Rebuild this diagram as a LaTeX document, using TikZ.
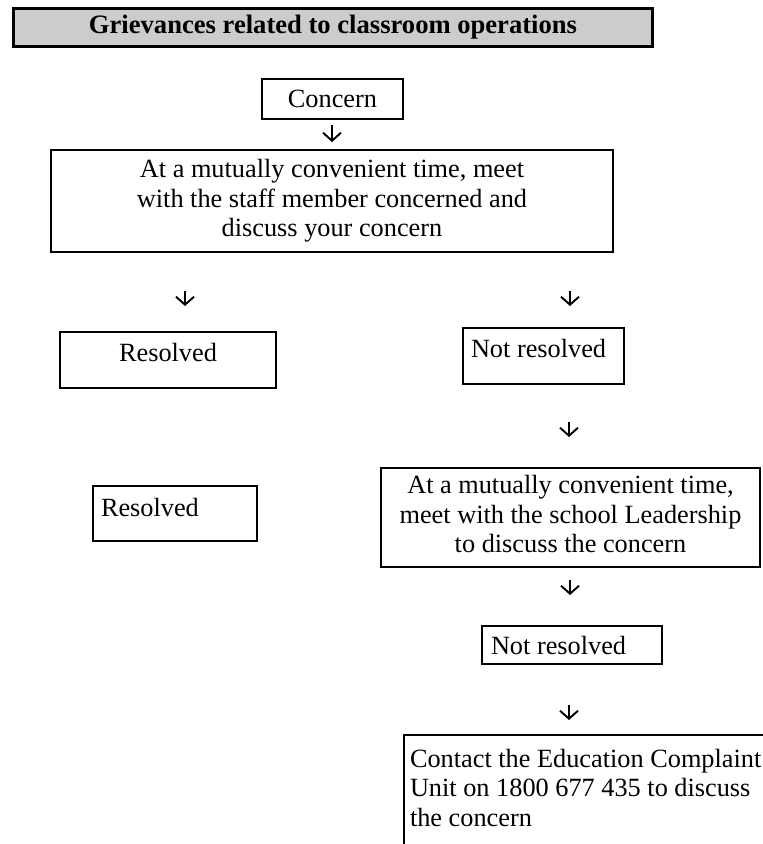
\documentclass[tikz,border=0pt]{standalone}
\usepackage{fontspec}
\setmainfont{Liberation Serif}
\usetikzlibrary{arrows.meta}
\begin{document}
\begin{tikzpicture}[x=1pt,y=-1pt,
  every node/.style={font=\fontsize{26.3}{29.5}\selectfont},
  box/.style={draw, line width=2pt, anchor=north west, inner sep=0pt},
  titlebox/.style={box, fill=gray!40, line width=3pt, font=\fontsize{26.6}{29.5}\selectfont\bfseries},
  darrow/.style={line width=1.9pt, -{Straight Barb[length=8pt,width=18pt]}}]
\useasboundingbox (0,0) rectangle (763,844);
\clip (0,0) rectangle (763,844);
% heading
\node[titlebox, minimum width=639, minimum height=38] (title) at (12,7) {Grievances related to classroom operations};
% boxes
\node[box, minimum width=141, minimum height=40] (concern) at (261,78) {Concern};
\node[box, minimum width=562, minimum height=102, align=center] (meet) at (50,149) {At a mutually convenient time, meet\\with the staff member concerned and\\discuss your concern};
\node[box, minimum width=216, text height=29.6, text depth=26.4] (res1) at (59,331) {Resolved};
\node[box, text width=145, inner xsep=8, align=flush left, text height=29.6, text depth=26.4] (nres1) at (462,327) {Not resolved};
\node[box, text width=148, inner xsep=8, align=flush left, text height=30.6, text depth=24.4] (res2) at (92,485) {Resolved};
\node[box, text width=365, inner xsep=7, align=flush center, text height=25.6, text depth=73.4] (leader) at (380,467) {At a mutually convenient time,\\meet with the school Leadership\\to discuss the concern};
\node[box, text width=162, inner xsep=9, align=flush left, text height=28.6, text depth=9.4] (nres2) at (481,625) {Not resolved};
\node[box, text width=400, inner xsep=6, align=flush left, text height=32, text depth=150] (contact) at (403,734) {Contact the Education Complaint\\Unit on 1800 677 435 to discuss\\the concern};
% arrows
\coordinate (a1) at (332,125); \coordinate (b1) at (332,142);
\coordinate (a2) at (185,291); \coordinate (b2) at (185,306);
\coordinate (a3) at (570,291); \coordinate (b3) at (570,306);
\coordinate (a4) at (569,422); \coordinate (b4) at (569,437);
\coordinate (a5) at (570,580); \coordinate (b5) at (570,595);
\coordinate (a6) at (569,705); \coordinate (b6) at (569,720);
\draw[darrow] (a1) -- (b1);
\draw[darrow] (a2) -- (b2);
\draw[darrow] (a3) -- (b3);
\draw[darrow] (a4) -- (b4);
\draw[darrow] (a5) -- (b5);
\draw[darrow] (a6) -- (b6);
\end{tikzpicture}
\end{document}
